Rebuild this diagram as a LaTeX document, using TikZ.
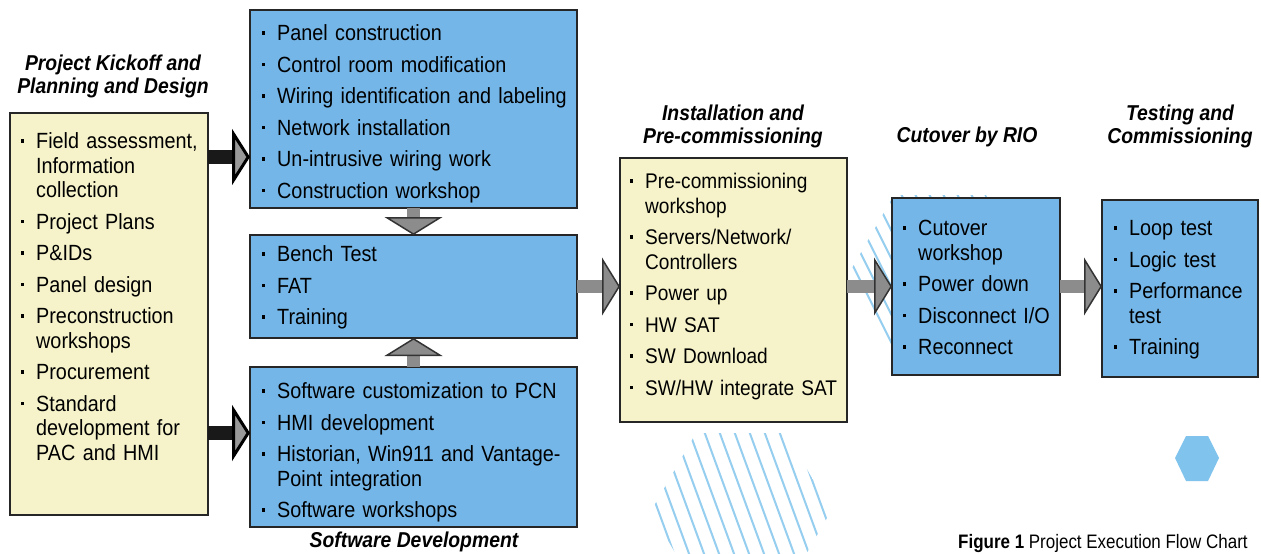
\documentclass[tikz,border=0pt]{standalone}
\usepackage{fontspec}
\setmainfont{Liberation Sans}[FakeStretch=0.9]
\newfontfamily\capfont{Liberation Sans}[FakeStretch=0.87]
\usetikzlibrary{arrows.meta}

\definecolor{boxyellow}{RGB}{246,243,202}
\definecolor{boxblue}{RGB}{116,182,232}
\definecolor{hatchblue}{RGB}{150,206,240}
\definecolor{hexblue}{RGB}{128,196,238}
\definecolor{arrowgray}{RGB}{140,140,140}

\newcommand{\itm}{\par\noindent\llap{\rule[6pt]{3.5pt}{3.5pt}\hspace{12pt}}\strut}

\tikzset{
  phase/.style={draw=black!85, line width=2pt, inner sep=0pt, outer sep=0pt},
  ybox/.style={phase, fill=boxyellow},
  bbox/.style={phase, fill=boxblue},
  items/.style={anchor=north west, inner sep=0pt, align=left, text width=#1,
    font=\fontsize{22}{24.5}\selectfont, execute at begin node={\setlength{\parskip}{7pt}}},
  title/.style={anchor=north, inner sep=0pt, align=center,
    font=\fontsize{21.5}{23}\selectfont\bfseries\itshape},
  grayarrow/.style={draw=arrowgray, line width=13pt,
    -{Triangle[length=18pt,width=58pt,fill=arrowgray,color=black!80,line width=1.5pt]}},
  blackarrow/.style={draw=black!90, line width=14pt,
    -{Triangle[length=18pt,width=56pt,fill=black!40,color=black,line width=3pt]}},
  hatch/.style={hatchblue, line width=2pt}
}

\begin{document}
\begin{tikzpicture}[x=1pt,y=-1pt]
  \fill[white] (0,0) rectangle (1261,554);
  \useasboundingbox (0,0) rectangle (1261,554);

  % scan background shapes
  \fill[hexblue] (1175,458) -- (1186,436) -- (1208,436) -- (1219,458) -- (1208,481) -- (1186,481) -- cycle;
  \begin{scope}
    \clip (651,511) -- (696,433) -- (786,433) -- (831,511) -- (786,589) -- (696,589) -- cycle;
    \foreach \x in {580,595,...,840} \draw[hatch] (\x,420) -- ++(66,180);
  \end{scope}
  \begin{scope}
    \clip (848,275) -- (894,195) -- (986,195) -- (1032,275) -- (986,355) -- (894,355) -- cycle;
    \foreach \x in {740,754,...,1040} \draw[hatch] (\x,180) -- ++(95,190);
  \end{scope}

  \node[ybox, minimum width=198pt, minimum height=402pt] (kickoff) at (109,314) {};
  \node[bbox, minimum width=327pt, minimum height=198pt] (constr) at (413.5,109) {};
  \node[bbox, minimum width=327pt, minimum height=103pt] (bench) at (413.5,286.5) {};
  \node[bbox, minimum width=327pt, minimum height=160pt] (soft) at (413.5,447) {};
  \node[ybox, minimum width=227pt, minimum height=264pt] (install) at (733.5,290) {};
  \node[bbox, minimum width=168pt, minimum height=177pt] (cutover) at (976,286.5) {};
  \node[bbox, minimum width=156pt, minimum height=177pt] (testing) at (1180,288.5) {};

  \node[items=170pt] (kickoff-list) at ([xshift=26pt,yshift=-4pt]kickoff.north west)
    {\itm Field assessment,\\Information\\collection
     \itm Project Plans
     \itm P\&IDs
     \itm Panel design
     \itm Preconstruction\\workshops
     \itm Procurement
     \itm Standard\\development for\\PAC and HMI};
  \node[items=300pt] (constr-list) at ([xshift=27pt,yshift=1pt]constr.north west)
    {\itm Panel construction
     \itm Control room modification
     \itm Wiring identification and labeling
     \itm Network installation
     \itm Un-intrusive wiring work
     \itm Construction workshop};
  \node[items=300pt] (bench-list) at ([xshift=27pt,yshift=5pt]bench.north west)
    {\itm Bench Test
     \itm FAT
     \itm Training};
  \node[items=300pt] (soft-list) at ([xshift=27pt,yshift=0pt]soft.north west)
    {\itm Software customization to PCN
     \itm HMI development
     \itm Historian, Win911 and Vantage-\\Point integration
     \itm Software workshops};
  \node[items=200pt, font=\fontsize{21.2}{24.5}\selectfont] (install-list) at ([xshift=25pt,yshift=1pt]install.north west)
    {\itm Pre-commissioning\\workshop
     \itm Servers/Network/\\Controllers
     \itm Power up
     \itm HW SAT
     \itm SW Download
     \itm SW/HW integrate SAT};
  \node[items=140pt] (cutover-list) at ([xshift=26pt,yshift=-6pt]cutover.north west)
    {\itm Cutover\\workshop
     \itm Power down
     \itm Disconnect I/O
     \itm Reconnect};
  \node[items=125pt] (testing-list) at ([xshift=27pt,yshift=-4pt]testing.north west)
    {\itm Loop test
     \itm Logic test
     \itm Performance\\test
     \itm Training};

  \node[title] (kickoff-title) at (113,55) {Project Kickoff and\\Planning and Design};
  \node[title] (install-title) at (733,105) {Installation and\\Pre-commissioning};
  \node[title] (cutover-title) at (967,127) {Cutover by RIO};
  \node[title] (testing-title) at (1180,105) {Testing and\\Commissioning};
  \node[title] (soft-title) at (414,532) {Software Development};

  \path ([yshift=-44pt]kickoff.north east) coordinate (k1)
        ([yshift=-320pt]kickoff.north east) coordinate (k2);
  \draw[blackarrow] (k1) -- (k1 -| constr.west);
  \draw[blackarrow] (k2) -- (k2 -| soft.west);
  \draw[grayarrow] (constr.south) -- (bench.north);
  \draw[grayarrow] (soft.north) -- (bench.south);
  \draw[grayarrow] (bench.east) -- (bench.east -| install.west);
  \draw[grayarrow] (cutover.west -| install.east) -- (cutover.west);
  \draw[grayarrow] (cutover.east) -- (cutover.east -| testing.west);

  \node[anchor=base west, inner sep=0pt, font=\capfont\fontsize{19.5}{22}\selectfont] (caption) at (958,548)
    {\textbf{Figure 1} Project Execution Flow Chart};
\end{tikzpicture}
\end{document}
